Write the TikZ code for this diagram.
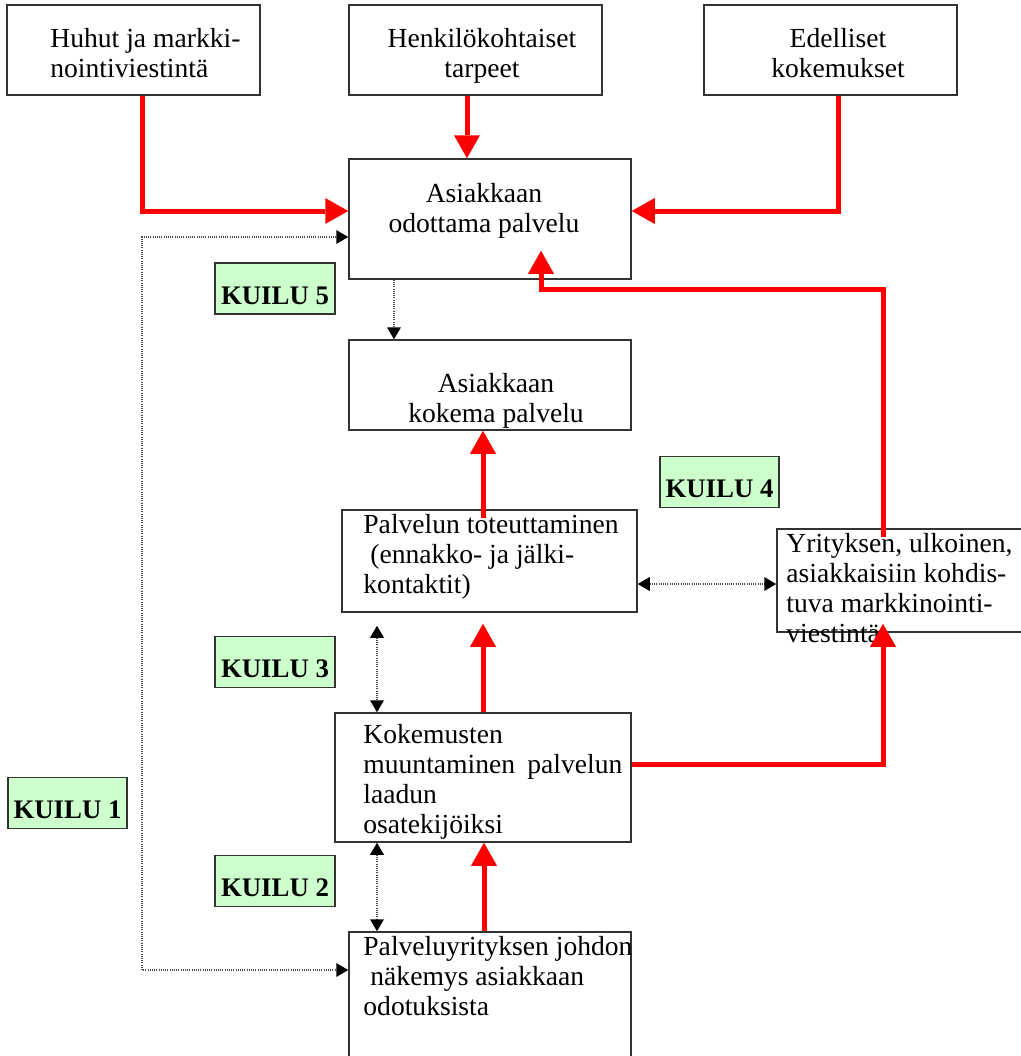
\documentclass[tikz,border=0pt]{standalone}
\usepackage{fontspec}
\setmainfont{Liberation Serif}
\usetikzlibrary{arrows.meta}
% stacked lines with a fixed line pitch; the node baseline is the first line's
\newcommand\leftlines[1]{\vtop{\baselineskip=15pt\halign{##\hfil\cr#1\crcr}}}
\newcommand\midlines[1]{\vtop{\baselineskip=15pt\halign{\hfil##\hfil\cr#1\crcr}}}
\definecolor{gapgreen}{HTML}{CCFFCC}
\definecolor{edge}{HTML}{333333}
\tikzset{
  stagebox/.style={draw=edge, line width=0.75pt, rectangle, inner sep=0pt, fill=white},
  txt/.style={inner sep=0pt, font=\fontsize{13.8}{15}\selectfont},
  gapbox/.style={draw=edge, line width=0.75pt, fill=gapgreen, inner sep=0pt,
    minimum width=60pt, text height=20.5pt, text depth=5pt,
    font=\fontsize{13.4}{15}\selectfont\bfseries},
  flow/.style={draw=red, line width=2.5pt, line join=miter,
    -{Triangle[length=11.5pt,width=13pt,line width=0pt]}},
  gapline/.style={draw=black!70, line width=0.55pt, dash pattern=on 0.5pt off 0.6pt},
  tipb/.tip={Triangle[length=6pt,width=7pt,line width=0pt,color=black]},
}
\begin{document}
\begin{tikzpicture}[x=0.5pt,y=-0.5pt]
\useasboundingbox (0,0) rectangle (1021,1056);
\fill[white] (0,0) rectangle (1021,1056);

% stage boxes
\node[stagebox, minimum width=126.5pt, minimum height=45pt] (b1) at (133.5,50) {};
\node[stagebox, minimum width=126.5pt, minimum height=45pt] (b2) at (475.5,50) {};
\node[stagebox, minimum width=126.5pt, minimum height=45pt] (b3) at (830.5,50) {};
\node[stagebox, minimum width=141pt, minimum height=60pt] (b4) at (490,219) {};
\node[stagebox, minimum width=141pt, minimum height=45pt] (b5) at (490,385) {};
\node[stagebox, minimum width=147.5pt, minimum height=51pt] (b6) at (489.5,561) {};
\node[stagebox, minimum width=126.5pt, minimum height=51.5pt] (b7) at (903.5,580.5) {};
\node[stagebox, minimum width=148pt, minimum height=64.5pt] (b8) at (483,777.5) {};
\node[stagebox, minimum width=141pt, minimum height=69pt] (b9) at (490,1001) {};

% box texts
\node[txt, anchor=base west] (t1) at (50,47) {\leftlines{Huhut ja markki-\cr nointiviestintä}};
\node[txt, anchor=base] (t2) at (482,47) {\midlines{Henkilökohtaiset\cr tarpeet}};
\node[txt, anchor=base] (t3) at (838,47) {\midlines{Edelliset\cr kokemukset}};
\node[txt, anchor=base] (t4) at (484,202) {\midlines{Asiakkaan\cr odottama palvelu}};
\node[txt, anchor=base] (t5) at (496,392) {\midlines{Asiakkaan\cr kokema palvelu}};
\node[txt, anchor=base west] (t6) at (363,533) {\leftlines{Palvelun toteuttaminen\cr
  \hskip3.5pt(ennakko- ja jälki-\cr kontaktit)}};
\node[txt, anchor=base west] (t7) at (786,552) {\leftlines{Yrityksen, ulkoinen,\cr
  asiakkaisiin kohdis-\cr tuva markkinointi-\cr viestintä}};
\node[txt, anchor=base west] (t8) at (363,743) {\leftlines{Kokemusten\cr
  \hbox to 129.5pt{muuntaminen\hfil palvelun}\cr laadun\cr osatekijöiksi}};
\node[txt, anchor=base west] (t9) at (363,955) {\leftlines{Palveluyrityksen johdon\cr
  \hskip3.5pt näkemys asiakkaan\cr odotuksista}};

% gap labels
\node[gapbox] (k5) at (275,288.5) {KUILU 5};
\node[gapbox, minimum width=59.5pt] (k4) at (719.5,482) {KUILU 4};
\node[gapbox] (k3) at (275,662) {KUILU 3};
\node[gapbox, minimum width=59.5pt] (k1) at (67.5,803) {KUILU 1};
\node[gapbox] (k2) at (275,881) {KUILU 2};

% dotted gap connectors
\draw[gapline, -tipb] (b4.south -| 394,0) -- (b5.north -| 394,0);
\draw[gapline, tipb-tipb] (b4.west |- 0,237) -| (142,970) -- (b9.west |- 0,970);
\draw[gapline, tipb-tipb, shorten <=6.5pt] (b6.south -| 377,0) -- (b8.north -| 377,0);
\draw[gapline, tipb-tipb] (b8.south -| 377,0) -- (b9.north -| 377,0);
\draw[gapline, tipb-tipb] (b6.east |- 0,584) -- (b7.west |- 0,584);

% red flows
\draw[flow] (b1.south -| 142,0) |- (b4.west |- 0,211);
\draw[flow] (b2.south -| 467,0) -- (b4.north -| 467,0);
\draw[flow] (b3.south -| 838,0) |- (b4.east |- 0,211);
\draw[flow, shorten <=-4.5pt, shorten >=-14.5pt] (b7.north -| 883,0) -- (883,289) -| (b4.south -| 541,0);
\draw[flow, shorten <=-4.5pt] (b6.north -| 483,0) -- (b5.south -| 483,0);
\draw[flow, shorten >=5.5pt] (b8.north -| 483,0) -- (b6.south -| 483,0);
\draw[flow] (b9.north -| 484,0) -- (b8.south -| 484,0);
\draw[flow, shorten >=-4.5pt] (b8.east |- 0,764) -| (b7.south -| 883,0);
\end{tikzpicture}
\end{document}
